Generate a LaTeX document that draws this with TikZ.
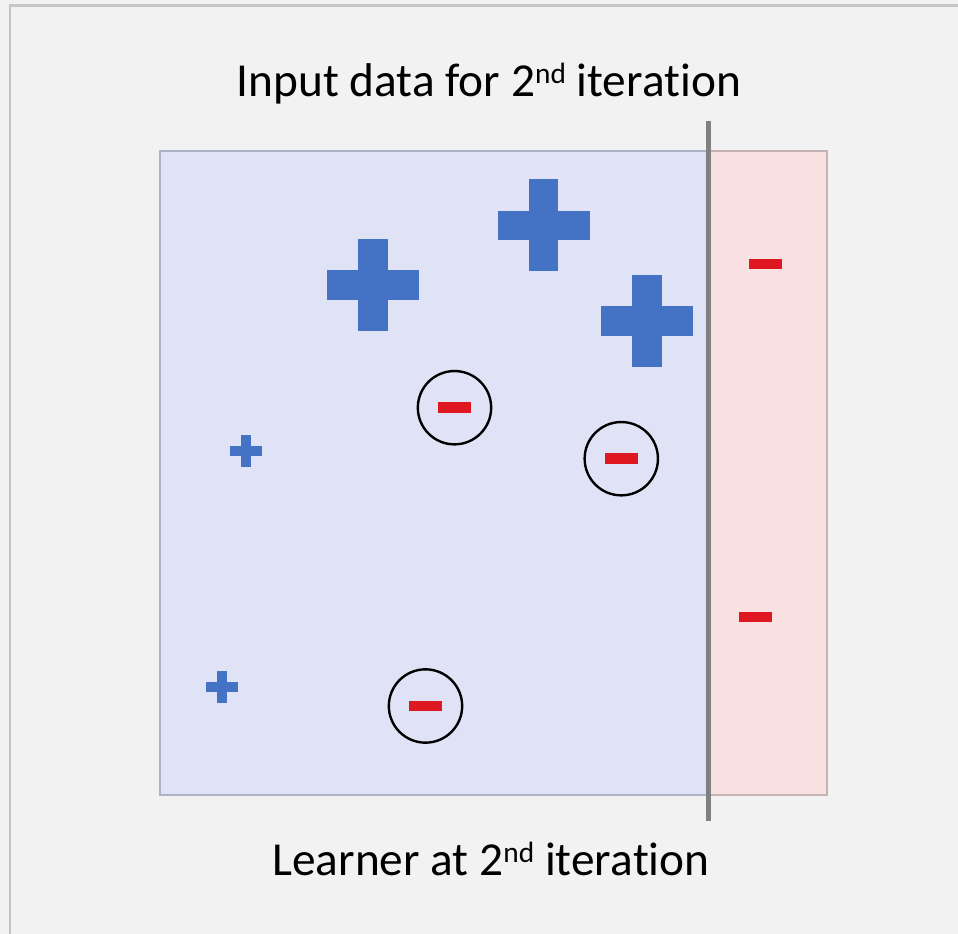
\documentclass[tikz,border=0pt]{standalone}
\usepackage{fontspec}
\setmainfont{Carlito}[RawFeature={-liga;-clig;-calt;-dlig}]
\definecolor{pagebg}{HTML}{F2F2F2}
\definecolor{framegray}{HTML}{C6C6C6}
\definecolor{learnerfill}{HTML}{E0E3F5}
\definecolor{learneredge}{HTML}{ADB2C9}
\definecolor{errfill}{HTML}{F9E1E1}
\definecolor{erredge}{HTML}{C7B3B3}
\definecolor{splitgray}{HTML}{808080}
\definecolor{plusblue}{HTML}{4472C4}
\definecolor{minusred}{HTML}{DF1720}
\newcommand{\ordsup}[1]{\raisebox{10pt}{\fontsize{22pt}{22pt}\selectfont #1}}
% keeps the t and i of "tion" as separate letters
\newcommand{\brk}{\kern0pt{}}
\begin{document}
\begin{tikzpicture}[x=0.75pt,y=-0.75pt,
  bigplus/.pic={
    \fill[plusblue] (-46,-14.75) rectangle (46,14.75);
    \fill[plusblue] (-14.75,-46) rectangle (14.75,46);
  },
  smallplus/.pic={
    \fill[plusblue] (-16,-5) rectangle (16,5);
    \fill[plusblue] (-5,-16) rectangle (5,16);
  },
  minusbar/.style={rectangle, fill=minusred, inner sep=0pt,
    minimum width=24.75pt, minimum height=8pt},
  ring/.style={circle, draw=black, line width=1.8pt, inner sep=0pt,
    minimum size=55pt},
  caption/.style={anchor=base, inner sep=0pt, font=\fontsize{35.5pt}{40pt}\selectfont}]
  % page and its frame
  \useasboundingbox (0,0) rectangle (958,934);
  \fill[pagebg] (0,0) rectangle (958,934);
  \draw[framegray, line width=1.6pt] (10,940) -- (10,5.5) -- (965,5.5);
  % regions on either side of the learner's boundary
  \node[draw=learneredge, fill=learnerfill, line width=1.2pt, inner sep=0pt,
        minimum width=411.75pt, minimum height=483pt, anchor=north west]
        (learner) at (159,150) {};
  \node[draw=erredge, fill=errfill, line width=1.2pt, inner sep=0pt,
        minimum width=88.5pt, minimum height=483pt, anchor=north west]
        (errzone) at (708,150) {};
  % decision boundary
  \coordinate (splittop) at (708,121);
  \coordinate (splitbot) at (708,821);
  \draw[splitgray, line width=3.75pt] (splittop) -- (splitbot);
  % positive samples
  \pic (p1) at (373,285) {bigplus};
  \pic (p2) at (543.5,225.5) {bigplus};
  \pic (p3) at (647,321) {bigplus};
  \pic (p4) at (246,451) {smallplus};
  \pic (p5) at (222,686.5) {smallplus};
  % misclassified negatives, circled
  \node[ring] (c1) at (454.5,407.7) {};
  \node[minusbar] (n1) at (c1.center) {};
  \node[ring] (c2) at (621.3,458.7) {};
  \node[minusbar] (n2) at (c2.center) {};
  \node[ring] (c3) at (425.5,706) {};
  \node[minusbar] (n3) at (c3.center) {};
  % correctly classified negatives
  \node[minusbar] (n4) at (765.5,264) {};
  \node[minusbar] (n5) at (755.5,617) {};
  % captions
  \node[caption] (title) at (489,96.7) {Input data for 2\ordsup{nd} itera\brk tion};
  \node[caption] (label) at (491,875.7) {Learner at 2\ordsup{nd} itera\brk tion};
\end{tikzpicture}
\end{document}
